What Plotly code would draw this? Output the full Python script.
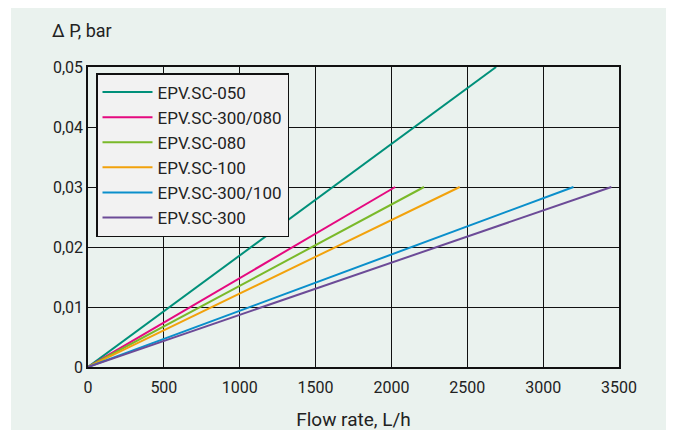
import plotly.graph_objects as go

names = ["EPV.SC-050", "EPV.SC-300/080", "EPV.SC-080", "EPV.SC-100", "EPV.SC-300/100", "EPV.SC-300"]
end_flow = [2690, 2025, 2215, 2450, 3200, 3450]
end_dp = [0.05, 0.03, 0.03, 0.03, 0.03, 0.03]
colors = ["#00907A", "#E5097F", "#7AB929", "#F2A20C", "#0A8FCB", "#6C4B97"]

x_ticks = [0, 500, 1000, 1500, 2000, 2500, 3000, 3500]
y_ticks = [0, 0.01, 0.02, 0.03, 0.04, 0.05]

fig = go.Figure()
for n, xf, yd, c in zip(names, end_flow, end_dp, colors):
    fig.add_trace(go.Scatter(x=[0, xf], y=[0, yd], mode="lines", name=n,
                             line=dict(color=c, width=2)))

OFF = 8  # page body margin
W, H = 674 - OFF, 432 - OFF
L, T = 88 - OFF, 67 - OFF
R, B = 674 - 619, 432 - 367
pw, ph = W - L - R, H - T - B

def px(xp):
    return (xp - OFF - L) / pw

def py(yp):
    return (H - B - (yp - OFF)) / ph

fig.add_shape(type="rect", xref="paper", yref="paper", layer="below",
              x0=px(11), x1=px(680), y0=py(430), y1=py(0),
              fillcolor="#EAF2EE", line=dict(width=0))

fig.add_annotation(text="Δ P, bar", xref="paper", yref="paper",
                   x=px(50), y=py(30), xanchor="left", yanchor="middle",
                   showarrow=False, font=dict(size=18, color="#222"))

fig.update_layout(
    width=W, height=H,
    margin=dict(l=L, r=R, t=T, b=B, autoexpand=False),
    paper_bgcolor="white", plot_bgcolor="#EAF2EE",
    separators=",.",
    font=dict(family="Roboto", size=16, color="#222"),
    showlegend=True,
    legend=dict(x=px(96), y=py(73), xanchor="left", yanchor="top",
                bgcolor="#F2F2F2", bordercolor="#111", borderwidth=1.5,
                font=dict(size=17, color="#222"), itemwidth=50),
)
fig.update_xaxes(range=[0, 3500], tickvals=x_ticks, showgrid=True, gridcolor="#111", gridwidth=1,
                 showline=True, linecolor="#111", linewidth=1.5, mirror=True, zeroline=False,
                 ticks="", ticklabelstandoff=5, automargin=False,
                 title=dict(text="Flow rate, L/h", standoff=17))
fig.update_yaxes(range=[0, 0.05], tickvals=y_ticks, showgrid=True, gridcolor="#111", gridwidth=1,
                 showline=True, linecolor="#111", linewidth=1.5, mirror=True, zeroline=False,
                 ticks="", ticklabelstandoff=0, automargin=False)

fig.write_html("out.html")
